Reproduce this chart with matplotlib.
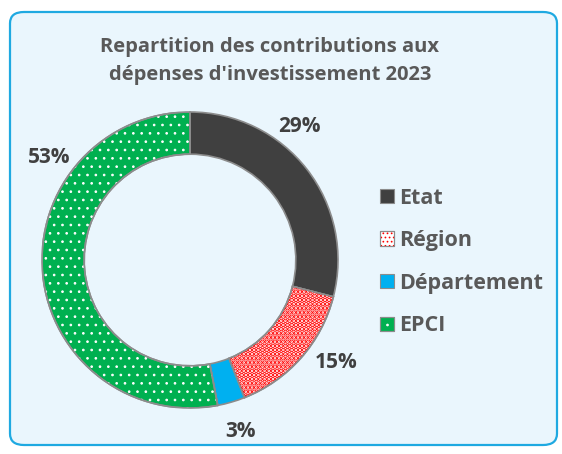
import matplotlib.pyplot as plt
from matplotlib.patches import FancyBboxPatch, Patch, Wedge

# data
categories = ['Etat', 'Région', 'Département', 'EPCI']
values = [29, 15, 3, 53]
pct_labels = ['29%', '15%', '3%', '53%']

face_colors = ['#404040', '#ffffff', '#00b0f0', '#00b050']
hatches = [None, '....', None, '..']
hatch_colors = [None, '#ff0000', None, '#ffffff']
hatch_widths = [None, 2.4, None, 0.7]
# label positions (axes data coords, pie radius = 1)
label_pos = [(0.74, 0.90), (0.99, -0.69), (0.34, -1.16), (-0.95, 0.69)]

W, H = 562, 454
fig = plt.figure(figsize=(W / 100, H / 100), dpi=100)
fig.patch.set_facecolor('white')

# rounded chart area
box = FancyBboxPatch((10 / W, 9 / H), 547 / W, 433 / H,
                     boxstyle='round,pad=0,rounding_size=0.025',
                     transform=fig.transFigure, facecolor='#eaf6fd',
                     edgecolor='#1fa9e1', linewidth=1.6, zorder=-5)
fig.patches.append(box)

fig.text(270 / W, 1 - 61 / H,
         'Repartition des contributions aux\ndépenses d\'investissement 2023',
         ha='center', va='center', fontsize=14.5, fontweight='bold',
         color='#595959', family='Open Sans', linespacing=1.55)

cx, cy, r = 190, 260, 148
ax = fig.add_axes([(cx - r) / W, (H - cy - r) / H, 2 * r / W, 2 * r / H])

wedges, _ = ax.pie(values, startangle=90, counterclock=False, radius=1,
                   colors=face_colors,
                   wedgeprops=dict(width=0.285, edgecolor='#8c8c8c', linewidth=1.2))
ax.set_xlim(-1, 1)
ax.set_ylim(-1, 1)
ax.set_aspect('equal')
ax.axis('off')

# hatch overlays (hatch colour = edgecolor of an unstroked copy)
for w, h, hc, hw in zip(wedges, hatches, hatch_colors, hatch_widths):
    if h:
        plt.rcParams['hatch.linewidth'] = hw
        ov = Wedge(w.center, w.r, w.theta1, w.theta2, width=w.width,
                   facecolor='none', edgecolor=hc, hatch=h, linewidth=0)
        ax.add_patch(ov)
        edge = Wedge(w.center, w.r, w.theta1, w.theta2, width=w.width,
                     facecolor='none', edgecolor='#8c8c8c', linewidth=1.2)
        ax.add_patch(edge)

for (x, y), t in zip(label_pos, pct_labels):
    ax.text(x, y, t, ha='center', va='center', fontsize=15, fontweight='bold',
            color='#404040', family='Open Sans', clip_on=False)

handles = []
for c, h, hc, hw in zip(face_colors, hatches, hatch_colors, hatch_widths):
    base = Patch(facecolor=c, edgecolor='#8c8c8c', linewidth=0.8)
    if h:
        plt.rcParams['hatch.linewidth'] = hw
        handles.append((base, Patch(facecolor='none', edgecolor=hc, hatch=h, linewidth=0),
                        Patch(facecolor='none', edgecolor='#8c8c8c', linewidth=0.8)))
    else:
        handles.append(base)

leg = fig.legend(handles, categories, loc='center left',
                 bbox_to_anchor=(369 / W, 1 - 262 / H), frameon=False,
                 prop=dict(family='Open Sans', weight='bold', size=15.5),
                 labelcolor='#595959', handlelength=0.65, handleheight=0.65,
                 handletextpad=0.25, labelspacing=1.0, borderpad=0)

fig.savefig('out.png', dpi=100, facecolor='white')
